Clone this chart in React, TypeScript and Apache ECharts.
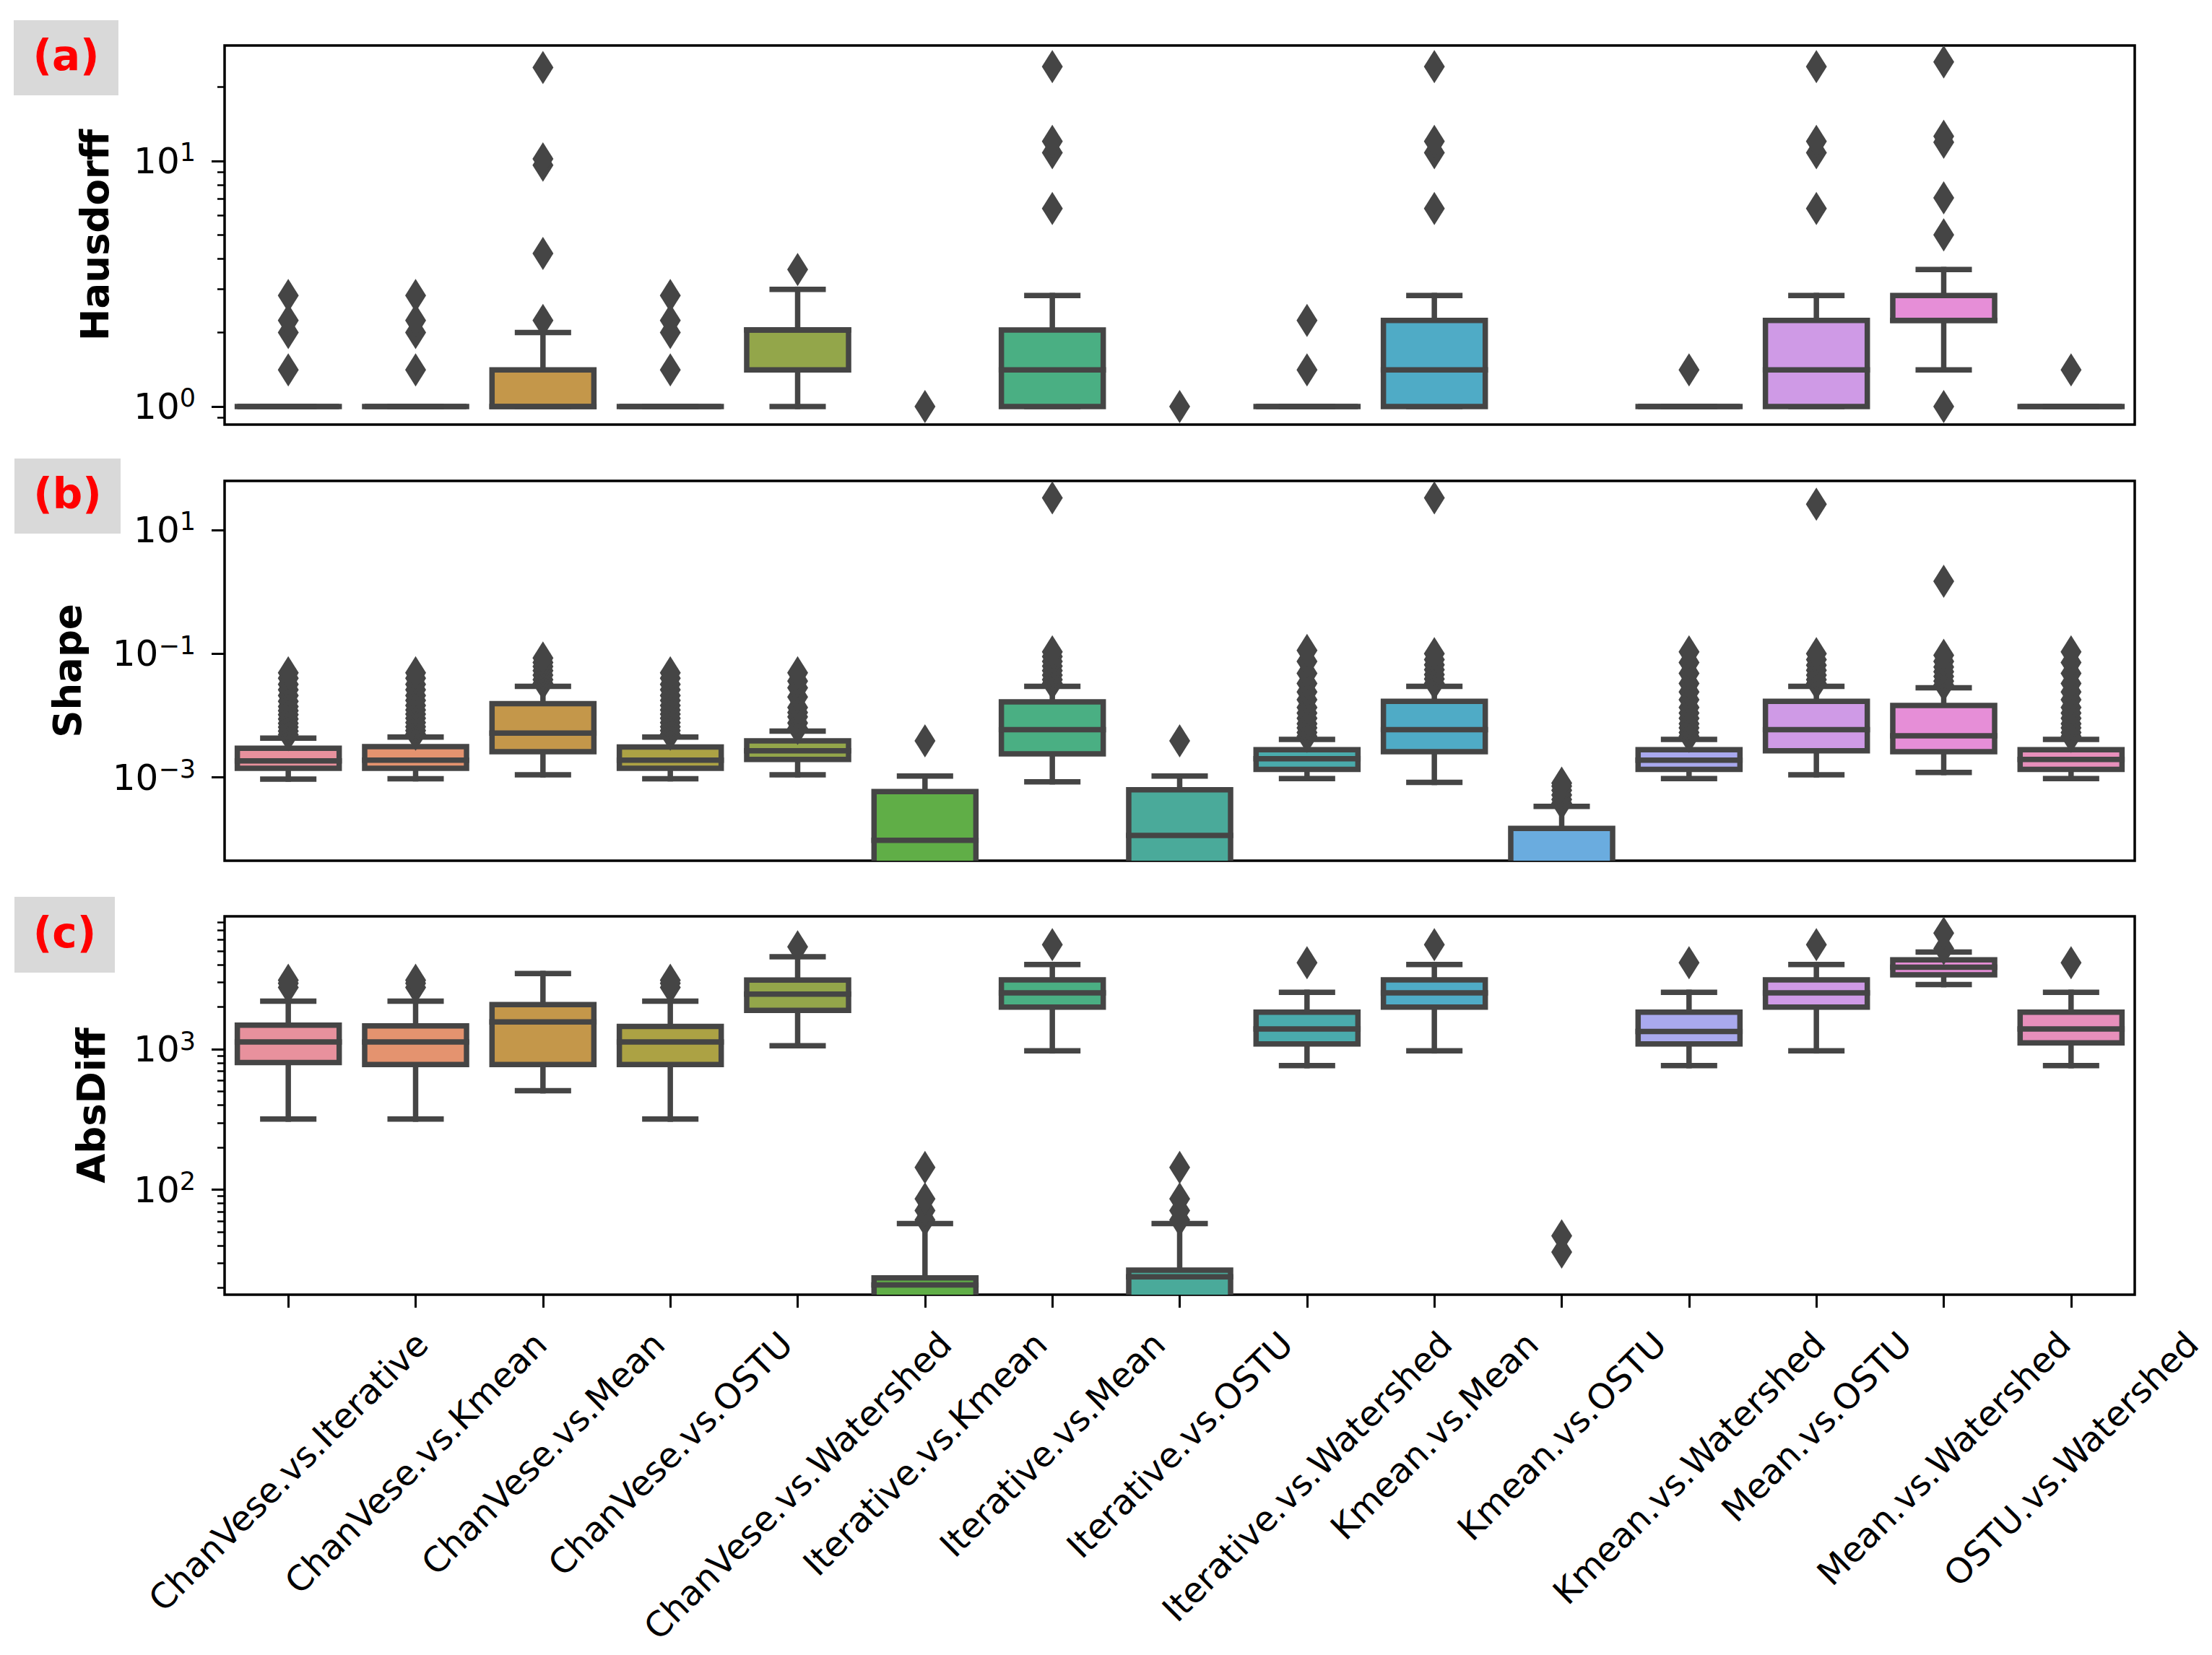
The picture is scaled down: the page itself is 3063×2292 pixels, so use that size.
import React, { useEffect, useRef } from 'react';
import * as echarts from 'echarts';

// ---------------- data ----------------
const categories = [
  'ChanVese.vs.Iterative', 'ChanVese.vs.Kmean', 'ChanVese.vs.Mean', 'ChanVese.vs.OSTU',
  'ChanVese.vs.Watershed', 'Iterative.vs.Kmean', 'Iterative.vs.Mean', 'Iterative.vs.OSTU',
  'Iterative.vs.Watershed', 'Kmean.vs.Mean', 'Kmean.vs.OSTU', 'Kmean.vs.Watershed',
  'Mean.vs.OSTU', 'Mean.vs.Watershed', 'OSTU.vs.Watershed',
];

const boxColors = [
  '#e8919d', '#e4936f', '#c4974a', '#aca244', '#93a64a', '#60ae47', '#4aaf83', '#4aaa9a',
  '#4aabac', '#4fabc6', '#6aacdf', '#a9a9ee', '#cf9ae6', '#e68ed7', '#e78fbb',
];

// [lower whisker, Q1, median, Q3, upper whisker]; null = no visible box
const hausdorffBoxes: (number[] | null)[] = [
  [1, 1, 1, 1, 1],
  [1, 1, 1, 1, 1],
  [1, 1, 1, 1.41, 2.0],
  [1, 1, 1, 1, 1],
  [1, 1.41, 2.05, 2.05, 3.0],
  null,
  [1, 1, 1.41, 2.05, 2.83],
  null,
  [1, 1, 1, 1, 1],
  [1, 1, 1.41, 2.24, 2.83],
  null,
  [1, 1, 1, 1, 1],
  [1, 1, 1.41, 2.24, 2.83],
  [1.41, 2.24, 2.24, 2.83, 3.61],
  [1, 1, 1, 1, 1],
];
const hausdorffOutliers: number[][] = [
  [1.41, 2.0, 2.24, 2.83],
  [1.41, 2.0, 2.24, 2.83],
  [2.24, 4.2, 9.6, 10.2, 24],
  [1.41, 2.0, 2.24, 2.83],
  [3.61],
  [1.0],
  [6.4, 10.8, 12.0, 24.2],
  [1.0],
  [1.41, 2.24],
  [6.4, 10.8, 12.0, 24.2],
  [],
  [1.41],
  [6.4, 10.8, 12.0, 24.2],
  [1.0, 5.0, 7.07, 11.9, 12.6, 25.3],
  [1.41],
];

const shapeBoxes: (number[] | null)[] = [
  [9.4e-4, 1.4e-3, 1.85e-3, 2.95e-3, 4.3e-3],
  [9.5e-4, 1.4e-3, 1.9e-3, 3.15e-3, 4.5e-3],
  [1.1e-3, 2.6e-3, 5.2e-3, 0.0155, 0.0296],
  [9.5e-4, 1.4e-3, 1.9e-3, 3.1e-3, 4.5e-3],
  [1.1e-3, 1.95e-3, 2.7e-3, 3.9e-3, 5.6e-3],
  [2e-5, 2e-5, 9.6e-5, 5.9e-4, 1.05e-3],
  [8.5e-4, 2.4e-3, 5.9e-3, 0.0166, 0.0296],
  [2e-5, 2e-5, 1.15e-4, 6.3e-4, 1.05e-3],
  [9.6e-4, 1.35e-3, 2.0e-3, 2.8e-3, 4.1e-3],
  [8.3e-4, 2.6e-3, 5.9e-3, 0.017, 0.0296],
  [2e-5, 2e-5, 2e-5, 1.5e-4, 3.4e-4],
  [9.6e-4, 1.35e-3, 1.9e-3, 2.8e-3, 4.1e-3],
  [1.1e-3, 2.7e-3, 5.9e-3, 0.017, 0.0296],
  [1.2e-3, 2.6e-3, 4.7e-3, 0.0145, 0.028],
  [9.6e-4, 1.35e-3, 1.95e-3, 2.8e-3, 4.1e-3],
];
const shapeOutliers: number[][] = [
  [0.0049, 0.0056, 0.0065, 0.0075, 0.0088, 0.0103, 0.012, 0.014, 0.017, 0.021, 0.026, 0.032, 0.04, 0.049],
  [0.005, 0.0057, 0.0066, 0.0077, 0.009, 0.0105, 0.0123, 0.0145, 0.0175, 0.021, 0.026, 0.032, 0.04, 0.049],
  [0.033, 0.038, 0.045, 0.053, 0.062, 0.072, 0.085],
  [0.005, 0.0057, 0.0066, 0.0077, 0.009, 0.0105, 0.0123, 0.0145, 0.0175, 0.021, 0.026, 0.032, 0.04, 0.049],
  [0.0062, 0.0076, 0.0095, 0.0112, 0.0135, 0.02, 0.028, 0.036, 0.049],
  [3.9e-3],
  [0.033, 0.038, 0.045, 0.053, 0.063, 0.075, 0.09, 0.107, 33],
  [3.9e-3],
  [0.0046, 0.0053, 0.0063, 0.0074, 0.009, 0.011, 0.0135, 0.018, 0.024, 0.033, 0.048, 0.075, 0.113],
  [0.033, 0.039, 0.046, 0.055, 0.066, 0.08, 0.1, 33],
  [3.8e-4, 4.4e-4, 5.2e-4, 6.2e-4, 7.2e-4, 8.1e-4],
  [0.0046, 0.0053, 0.0063, 0.0074, 0.009, 0.011, 0.0135, 0.018, 0.024, 0.033, 0.048, 0.072, 0.107],
  [0.033, 0.038, 0.045, 0.054, 0.065, 0.08, 0.1, 26],
  [0.031, 0.036, 0.043, 0.051, 0.061, 0.075, 0.094, 1.48],
  [0.0046, 0.0053, 0.0063, 0.0074, 0.009, 0.011, 0.0135, 0.018, 0.024, 0.033, 0.048, 0.072, 0.107],
];

const absDiffBoxes: (number[] | null)[] = [
  [318, 805, 1128, 1485, 2197],
  [318, 778, 1128, 1466, 2197],
  [506, 778, 1562, 2080, 3460],
  [318, 778, 1128, 1452, 2197],
  [1059, 1888, 2465, 3110, 4550],
  [10, 10, 21, 23.6, 57.4],
  [973, 1995, 2518, 3115, 4010],
  [10, 10, 24, 26.8, 57.4],
  [764, 1091, 1393, 1834, 2540],
  [973, 1995, 2518, 3115, 4010],
  null,
  [764, 1091, 1336, 1834, 2540],
  [973, 1995, 2518, 3115, 4010],
  [2883, 3382, 3836, 4325, 4910],
  [764, 1110, 1393, 1834, 2540],
];
const absDiffOutliers: number[][] = [
  [2750, 2950, 3100],
  [2750, 2950, 3100],
  [],
  [2750, 2950, 3100],
  [5350],
  [61, 71, 86, 144],
  [5550],
  [61, 71, 86, 144],
  [4130],
  [5550],
  [36, 47],
  [4130],
  [5550],
  [5200, 6700],
  [4130],
];

const hausdorffRange = [0.844, 29.5];
const shapeRange = [4.5e-5, 62];
const absDiffRange = [17.9, 8830];

const hausdorffMajorTicks = [1, 10];
const hausdorffMinorTicks = [0.9, 2, 3, 4, 5, 6, 7, 8, 9, 20];
const shapeMajorTicks = [1e-3, 1e-1, 10];
const absDiffMajorTicks = [100, 1000];
const absDiffMinorTicks = [
  20, 30, 40, 50, 60, 70, 80, 90,
  200, 300, 400, 500, 600, 700, 800, 900,
  2000, 3000, 4000, 5000, 6000, 7000, 8000,
];

const panelNames = ['Hausdorff', 'Shape', 'AbsDiff'];
const panelLetters = ['(a)', '(b)', '(c)'];

// ---------------- styling ----------------
const FONT = 'DejaVu Sans';
const LINE = '#454545';
const LW = 7.5;
const GRID_LEFT = 311;
const GRID_WIDTH = 2645;
const XLABEL_SIZE = 48;
const XLABEL_TOP = 1833;

function supLabel(v: number) {
  const e = Math.round(Math.log10(v));
  const s = e < 0 ? '\u2212' + Math.abs(e) : String(e);
  return `{b|10}{s|${s}}`;
}

function boxRender(params: any, api: any) {
  const i = api.value(0);
  const band = api.size([1, 1])[0];
  const w = band * 0.8;
  const cw = w * 0.5;
  const x = api.coord([i, api.value(3)])[0];
  const y = (k: number) => api.coord([i, api.value(k)])[1];
  const yLow = y(1), yQ1 = y(2), yMed = y(3), yQ3 = y(4), yUp = y(5);
  const ls = { stroke: LINE, lineWidth: LW, lineCap: 'square' };
  return {
    type: 'group',
    children: [
      { type: 'line', shape: { x1: x, y1: yQ1, x2: x, y2: yLow }, style: ls },
      { type: 'line', shape: { x1: x, y1: yQ3, x2: x, y2: yUp }, style: ls },
      { type: 'line', shape: { x1: x - cw / 2, y1: yLow, x2: x + cw / 2, y2: yLow }, style: ls },
      { type: 'line', shape: { x1: x - cw / 2, y1: yUp, x2: x + cw / 2, y2: yUp }, style: ls },
      {
        type: 'rect',
        shape: { x: x - w / 2, y: yQ3, width: w, height: Math.max(yQ1 - yQ3, 0) },
        style: { fill: boxColors[i], stroke: LINE, lineWidth: LW },
      },
      { type: 'line', shape: { x1: x - w / 2, y1: yMed, x2: x + w / 2, y2: yMed }, style: ls },
    ],
  };
}

function buildOption() {
  const panels = [
    { top: 63, height: 525, range: hausdorffRange, major: hausdorffMajorTicks, minor: hausdorffMinorTicks, gap: 153, boxes: hausdorffBoxes, outliers: hausdorffOutliers },
    { top: 666, height: 526, range: shapeRange, major: shapeMajorTicks, minor: [] as number[], gap: 191, boxes: shapeBoxes, outliers: shapeOutliers },
    { top: 1269, height: 524, range: absDiffRange, major: absDiffMajorTicks, minor: absDiffMinorTicks, gap: 158, boxes: absDiffBoxes, outliers: absDiffOutliers },
  ];
  const grid: any[] = [];
  const xAxis: any[] = [];
  const yAxis: any[] = [];
  const series: any[] = [];
  panels.forEach((p, k) => {
    const gMain = k * 2;
    const gMinor = k * 2 + 1;
    grid.push({
      left: GRID_LEFT, width: GRID_WIDTH, top: p.top, height: p.height,
      show: true, borderColor: '#000', borderWidth: 3.5, backgroundColor: 'transparent',
      containLabel: false, outerBoundsMode: 'none',
    });
    grid.push({
      left: GRID_LEFT, width: GRID_WIDTH, top: p.top, height: p.height,
      show: false, containLabel: false, outerBoundsMode: 'none',
    });
    const isBottom = k === 2;
    xAxis.push({
      type: 'category', gridIndex: gMain, data: categories, boundaryGap: true,
      axisLine: { show: false },
      axisTick: { show: isBottom, alignWithLabel: true, length: 18, lineStyle: { color: '#000', width: 3 } },
      axisLabel: { show: false },
      splitLine: { show: false },
    });
    xAxis.push({ type: 'category', gridIndex: gMinor, data: categories, show: false });
    yAxis.push({
      type: 'log', gridIndex: gMain, min: p.range[0], max: p.range[1],
      axisLine: { show: false },
      axisTick: { show: true, customValues: p.major, length: 18, lineStyle: { color: '#000', width: 3 } },
      axisLabel: {
        customValues: p.major,
        formatter: supLabel,
        margin: 40,
        rich: {
          b: { fontSize: 50, fontFamily: FONT, color: '#000', lineHeight: 58 },
          s: { fontSize: 35, fontFamily: FONT, color: '#000', verticalAlign: 'top', lineHeight: 30 },
        },
      },
      splitLine: { show: false },
      minorTick: { show: false },
      name: panelNames[k],
      nameLocation: 'middle',
      nameGap: p.gap,
      nameTextStyle: { fontSize: 53, fontWeight: 'bold', fontFamily: FONT, color: '#000' },
    });
    yAxis.push({
      type: 'log', gridIndex: gMinor, min: p.range[0], max: p.range[1],
      axisLine: { show: false },
      axisTick: p.minor.length
        ? { show: true, customValues: p.minor, length: 10, lineStyle: { color: '#000', width: 2.5 } }
        : { show: false },
      axisLabel: { show: false },
      splitLine: { show: false },
    });
    series.push({
      type: 'custom',
      xAxisIndex: gMain,
      yAxisIndex: gMain,
      clip: true,
      data: p.boxes.map((b, i) => (b ? [i, ...b] : null)).filter(Boolean),
      encode: { x: 0, y: [1, 2, 3, 4, 5] },
      renderItem: boxRender,
      silent: true,
    });
    series.push({
      type: 'scatter',
      xAxisIndex: gMain,
      yAxisIndex: gMain,
      data: p.outliers.flatMap((arr, i) => arr.map((v) => [i, v])),
      symbol: 'diamond',
      symbolSize: [29, 46],
      itemStyle: { color: LINE, opacity: 1 },
      clip: true,
      silent: true,
    });
  });
  return {
    animation: false,
    backgroundColor: '#fff',
    grid, xAxis, yAxis, series,
  };
}

function letterElements() {
  const boxes = [
    { x: 19, y: 28, w: 145, h: 104 },
    { x: 20, y: 635, w: 147, h: 104 },
    { x: 20, y: 1242, w: 139, h: 105 },
  ];
  const els: any[] = [];
  boxes.forEach((b, k) => {
    els.push({ type: 'rect', shape: { x: b.x, y: b.y, width: b.w, height: b.h }, style: { fill: '#d9d9d9' }, silent: true });
    els.push({
      type: 'text', x: b.x + b.w / 2, y: b.y + b.h / 2 - 3, silent: true,
      style: { text: panelLetters[k], fill: '#ff0000', fontSize: 58, fontWeight: 'bold', fontFamily: FONT, align: 'center', verticalAlign: 'middle' },
    });
  });
  return els;
}

export default function App() {
  const ref = useRef<HTMLDivElement>(null);
  useEffect(() => {
    const el = ref.current!;
    const chart = echarts.init(el, null, { renderer: 'svg' });
    chart.setOption(buildOption() as any);
    const ctx = document.createElement('canvas').getContext('2d')!;
    ctx.font = `${XLABEL_SIZE}px "${FONT}"`;
    const elements: any[] = letterElements();
    categories.forEach((c, i) => {
      const px = chart.convertToPixel({ xAxisIndex: 4 } as any, i) as unknown as number;
      const L = ctx.measureText(c).width;
      const cy = XLABEL_TOP + ((L + XLABEL_SIZE * 1.17) * Math.SQRT1_2) / 2;
      elements.push({
        type: 'text', x: px, y: cy, rotation: Math.PI / 4, silent: true,
        style: { text: c, fill: '#000', fontSize: XLABEL_SIZE, fontFamily: FONT, align: 'center', verticalAlign: 'middle' },
      });
    });
    chart.setOption({ graphic: { elements } } as any);
    return () => chart.dispose();
  }, []);
  return <div ref={ref} style={{ position: 'absolute', left: 0, top: 0, width: 3063, height: 2292 }} />;
}
